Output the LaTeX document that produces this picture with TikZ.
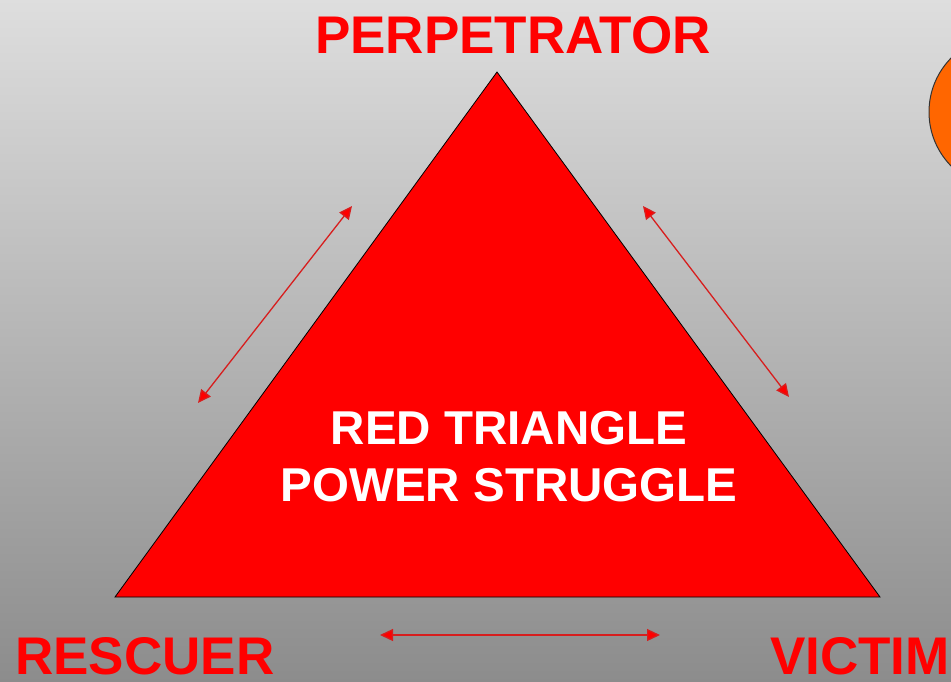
\documentclass[tikz,border=0pt]{standalone}
\usepackage{fontspec}
\setmainfont{Liberation Sans}
\usetikzlibrary{arrows.meta}
\definecolor{trired}{RGB}{255,0,0}
\definecolor{arrowred}{RGB}{215,30,30}
\definecolor{ballorange}{RGB}{255,102,0}
\tikzset{
  rolelabel/.style={inner sep=0pt, text=trired, font=\bfseries\fontsize{53}{60}\selectfont},
  swaparrow/.style={draw=arrowred, line width=1.3pt, {Triangle[length=13pt,width=12pt,fill=trired]}-{Triangle[length=13pt,width=12pt,fill=trired]}}
}
\begin{document}
\begin{tikzpicture}[x=1pt, y=-1pt]
		% --- background: grey gradient, fixes the page size ---
		\shade[top color=black!13, bottom color=black!45] (0,0) rectangle (951,681);
		\useasboundingbox (0,0) rectangle (951,681);

		% --- orange ball, cut off at the right edge ---
		\begin{scope}
			\clip (0,0) rectangle (951,681);
			\draw[fill=ballorange, draw=black!80, line width=1pt] (1006,112) circle (77);
		\end{scope}

		% --- triangle corners ---
		\coordinate (top)   at (497,72);
		\coordinate (left)  at (115,597);
		\coordinate (right) at (880,597);
		\fill[trired, draw=black, line width=0.8pt] (top) -- (left) -- (right) -- cycle;

		% --- title inside the triangle ---
		\node[inner sep=0pt, text=white, align=center, font=\bfseries\fontsize{47.5}{57}\selectfont] (title) at (509,457) {RED TRIANGLE\\POWER STRUGGLE};

		% --- role labels ---
		\node[rolelabel] (perp) at (513,35) {PERPETRATOR};
		\node[rolelabel, anchor=west] (resc) at (15,656) {RESCUER};
		\node[rolelabel, anchor=west] (vict) at (770,656) {VICTIM};

		% --- double-headed arrows along the sides ---
		\foreach \nm/\xa/\ya/\xb/\yb in {l/198/403/352/206, r/643/206/789/397, b/380/635/660/635} {
			\coordinate (\nm a) at (\xa,\ya);
			\coordinate (\nm b) at (\xb,\yb);
			\draw[swaparrow] (\nm a) -- (\nm b);
		}
	\end{tikzpicture}
\end{document}
